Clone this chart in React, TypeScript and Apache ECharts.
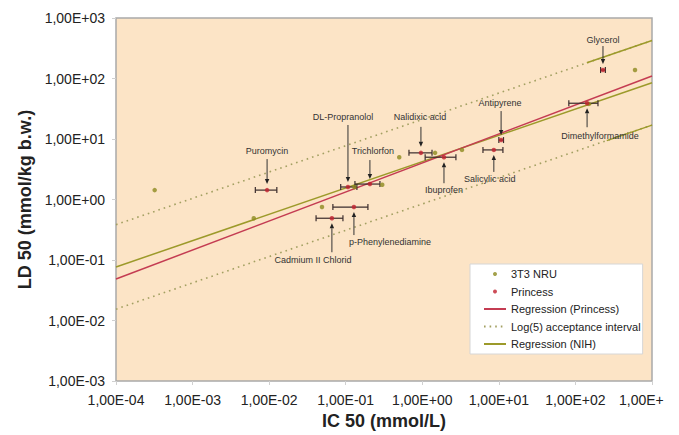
import React, { useEffect, useRef } from 'react';
import * as echarts from 'echarts';

// ---------- data ----------
const xTickLabels = ['1,00E-04', '1,00E-03', '1,00E-02', '1,00E-01', '1,00E+00', '1,00E+01', '1,00E+02', '1,00E+'];
const yTickLabels = ['1,00E-03', '1,00E-02', '1,00E-01', '1,00E+00', '1,00E+01', '1,00E+02', '1,00E+03'];

// 3T3 NRU (olive dots)
const nruIC50 = [0.00032, 0.0063, 0.049, 0.13, 0.30, 0.50, 1.47, 3.3, 150, 600];
const nruLD50 = [1.43, 0.49, 0.75, 1.6, 1.75, 5.0, 5.9, 6.6, 38, 138];

// Princess (red dots with IC50 error bars)
const chemicals = ['Puromycin', 'Cadmium II Chlorid', 'p-Phenylenediamine', 'DL-Propranolol', 'Trichlorfon', 'Nalidixic acid', 'Ibuprofen', 'Salicylic acid', 'Antipyrene', 'Dimethylformamide', 'Glycerol'];
const princessIC50 = [0.0094, 0.066, 0.128, 0.107, 0.207, 0.96, 1.92, 8.6, 10.7, 142, 229];
const princessLD50 = [1.43, 0.49, 0.75, 1.61, 1.80, 5.9, 5.0, 6.6, 9.6, 39, 138];
const princessLow = [0.0066, 0.041, 0.068, 0.086, 0.132, 0.67, 1.09, 6.2, 10.0, 82, 213];
const princessHigh = [0.0126, 0.092, 0.195, 0.14, 0.28, 1.34, 2.75, 11.3, 11.5, 197, 246];

// regression lines and acceptance interval (end points)
const lineX = [0.0001, 1000];
const regPrincessY = [0.0485, 110];
const regNihY = [0.0767, 85];
const accUpperY = [0.384, 425];
const accLowerY = [0.0154, 17];
const accUpperSolidX = [141, 1000];
const accUpperSolidY = [182, 425];
const accLowerSolidX = [257, 1000];
const accLowerSolidY = [9.4, 17];

const legendNames = ['3T3 NRU', 'Princess', 'Regression (Princess)', 'Log(5) acceptance interval', 'Regression (NIH)'];

// ---------- layout of annotations (pixel offsets from the point) ----------
const annotationLayout: Record<string, { dx: number; dy: number; a1: number; a2: number }> = {
  'Puromycin': { dx: 0, dy: -39, a1: -31, a2: -6 },
  'Cadmium II Chlorid': { dx: -19, dy: 42, a1: 34, a2: 5 },
  'p-Phenylenediamine': { dx: 36, dy: 35, a1: 28, a2: 5 },
  'DL-Propranolol': { dx: -5, dy: -70, a1: -62, a2: -5 },
  'Trichlorfon': { dx: 3, dy: -33, a1: -24, a2: -5 },
  'Nalidixic acid': { dx: -1, dy: -36, a1: -26, a2: -6 },
  'Ibuprofen': { dx: 0, dy: 33, a1: 26, a2: 5 },
  'Salicylic acid': { dx: -4, dy: 29, a1: 22, a2: 5 },
  'Antipyrene': { dx: -1, dy: -37, a1: -29, a2: -5 },
  'Dimethylformamide': { dx: 13, dy: 33, a1: 24, a2: 5 },
  'Glycerol': { dx: 0, dy: -30, a1: -24, a2: -6 },
};

const FONT = 'Liberation Sans, Arial, Helvetica, sans-serif';
const OLIVE_PT = '#8c8a1e';
const RED_PT = '#c0202e';
const RED_LINE = '#c43c52';
const OLIVE_LINE = '#9c9a2a';
const DOT_LINE = '#a3a062';

const pairs = (xs: number[], ys: number[]) => xs.map((x, i) => [x, ys[i]]);

export default function App() {
  const ref = useRef<HTMLDivElement>(null);
  useEffect(() => {
    if (!ref.current) return;
    const chart = echarts.init(ref.current, null, { renderer: 'svg' });

    const errData = princessIC50.map((x, i) => [x, princessLD50[i], princessLow[i], princessHigh[i]]);
    const annData = princessIC50.map((x, i) => [x, princessLD50[i], i]);

    const option: any = {
      animation: false,
      backgroundColor: '#ffffff',
      textStyle: { fontFamily: FONT },
      grid: {
        left: 116, top: 18, right: 27, bottom: 54,
        show: true, backgroundColor: '#fce4c6', borderColor: '#a9a9a9', borderWidth: 1.5,
      },
      legend: {
        orient: 'vertical',
        left: 470, top: 264,
        backgroundColor: '#ffffff',
        borderColor: '#d6d6d6', borderWidth: 1,
        padding: [3.5, 2, 3.5, 13],
        itemWidth: 22, itemHeight: 4, itemGap: 4.5,
        textStyle: { fontSize: 11, color: '#222', fontFamily: FONT, lineHeight: 13 },
        data: legendNames.map((n, i) => (i < 2 ? { name: n } : { name: n, itemStyle: { opacity: 0 } })),
      },
      xAxis: {
        type: 'log', logBase: 10, min: 0.0001, max: 1000, splitNumber: 7,
        name: 'IC 50 (mmol/L)', nameLocation: 'middle', nameGap: 29,
        nameTextStyle: { fontSize: 18, fontWeight: 'bold', color: '#222', fontFamily: FONT },
        axisLine: { show: false },
        axisTick: { show: true, length: 4, lineStyle: { color: '#d0d0d0' } },
        splitLine: { show: false },
        minorTick: { show: false },
        axisLabel: {
          fontSize: 14, color: '#222', margin: 12, fontFamily: FONT,
          formatter: (v: number) => {
            const i = Math.round(Math.log10(v)) + 4;
            const t = xTickLabels[i] ?? '';
            return i === xTickLabels.length - 1 ? '{last|' + t + '}' : t;
          },
          rich: { last: { fontSize: 14, color: '#222', fontFamily: FONT, width: 66, align: 'left' } },
        },
      },
      yAxis: {
        type: 'log', logBase: 10, min: 0.001, max: 1000, splitNumber: 6,
        name: 'LD 50 (mmol/kg b.w.)', nameLocation: 'middle', nameGap: 79,
        nameTextStyle: { fontSize: 18, fontWeight: 'bold', color: '#222', fontFamily: FONT },
        axisLine: { show: false },
        axisTick: { show: true, length: 4, lineStyle: { color: '#d0d0d0' } },
        splitLine: { show: false },
        axisLabel: {
          fontSize: 14, color: '#222', margin: 11, fontFamily: FONT,
          formatter: (v: number) => yTickLabels[Math.round(Math.log10(v)) + 3] ?? '',
        },
      },
      series: [
        {
          name: 'Log(5) acceptance interval', type: 'line', symbol: 'none', z: 2,
          data: pairs(lineX, accUpperY),
          lineStyle: { color: DOT_LINE, width: 1.6, type: [1.6, 4] },
          itemStyle: { color: DOT_LINE },
        },
        {
          name: 'Log(5) acceptance interval', type: 'line', symbol: 'none', z: 2,
          data: pairs(lineX, accLowerY),
          lineStyle: { color: DOT_LINE, width: 1.6, type: [1.6, 4] },
          itemStyle: { color: DOT_LINE },
        },
        {
          name: 'accUpperSolid', type: 'line', symbol: 'none', z: 2,
          data: pairs(accUpperSolidX, accUpperSolidY),
          lineStyle: { color: OLIVE_LINE, width: 1.4 },
        },
        {
          name: 'accLowerSolid', type: 'line', symbol: 'none', z: 2,
          data: pairs(accLowerSolidX, accLowerSolidY),
          lineStyle: { color: OLIVE_LINE, width: 1.4 },
        },
        {
          name: 'Regression (NIH)', type: 'line', symbol: 'none', z: 3,
          data: pairs(lineX, regNihY),
          lineStyle: { color: OLIVE_LINE, width: 1.5 },
          itemStyle: { color: OLIVE_LINE },
        },
        {
          name: 'Regression (Princess)', type: 'line', symbol: 'none', z: 3,
          data: pairs(lineX, regPrincessY),
          lineStyle: { color: RED_LINE, width: 1.5 },
          itemStyle: { color: RED_LINE },
        },
        {
          name: 'errorbars', type: 'custom', z: 4,
          data: errData,
          encode: { x: 0, y: 1 },
          renderItem: (params: any, api: any) => {
            const y = api.value(1);
            const p1 = api.coord([api.value(2), y]);
            const p2 = api.coord([api.value(3), y]);
            const cap = 3;
            const st = { stroke: '#3a2c2c', lineWidth: 1.2 };
            return {
              type: 'group',
              children: [
                { type: 'line', shape: { x1: p1[0], y1: p1[1], x2: p2[0], y2: p2[1] }, style: st },
                { type: 'line', shape: { x1: p1[0], y1: p1[1] - cap, x2: p1[0], y2: p1[1] + cap }, style: st },
                { type: 'line', shape: { x1: p2[0], y1: p2[1] - cap, x2: p2[0], y2: p2[1] + cap }, style: st },
              ],
            };
          },
        },
        {
          name: '3T3 NRU', type: 'scatter', z: 5,
          data: pairs(nruIC50, nruLD50),
          symbol: 'circle', symbolSize: 4.5,
          itemStyle: { color: OLIVE_PT },
        },
        {
          name: 'Princess', type: 'scatter', z: 6,
          data: pairs(princessIC50, princessLD50),
          symbol: 'circle', symbolSize: 4.5,
          itemStyle: { color: RED_PT },
        },
        {
          name: 'annotations', type: 'custom', z: 7,
          data: annData,
          encode: { x: 0, y: 1 },
          renderItem: (params: any, api: any) => {
            const p = api.coord([api.value(0), api.value(1)]);
            const name = chemicals[api.value(2)];
            const L = annotationLayout[name];
            const x = p[0];
            const y1 = p[1] + L.a1;
            const y2 = p[1] + L.a2;
            const dir = y2 > y1 ? 1 : -1;
            const head = 5;
            return {
              type: 'group',
              children: [
                {
                  type: 'text', x: p[0] + L.dx, y: p[1] + L.dy,
                  style: { text: name, fontSize: 9, fontFamily: FONT, fill: '#333', align: 'center', verticalAlign: 'middle' },
                },
                { type: 'line', shape: { x1: x, y1, x2: x, y2: y2 - dir * head }, style: { stroke: '#333', lineWidth: 1 } },
                {
                  type: 'polygon',
                  shape: { points: [[x - 2.2, y2 - dir * head], [x + 2.2, y2 - dir * head], [x, y2]] },
                  style: { fill: '#222' },
                },
              ],
            };
          },
        },
      ],
    };
    chart.setOption(option);
    return () => chart.dispose();
  }, []);
  return <div ref={ref} style={{ position: 'fixed', left: 0, top: 0, width: 679, height: 435 }} />;
}
